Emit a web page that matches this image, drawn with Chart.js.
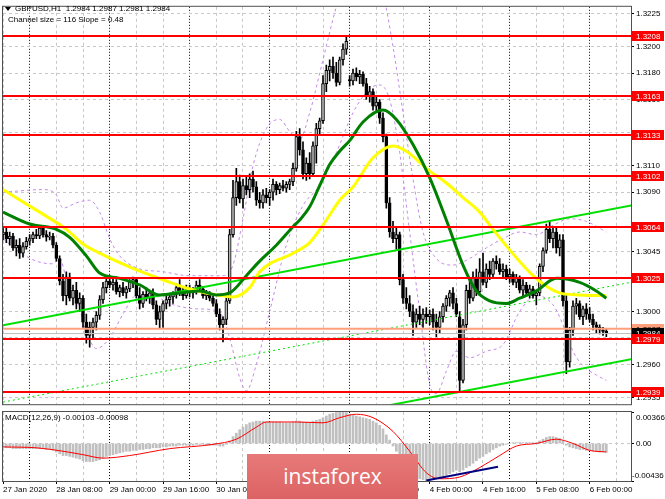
<!DOCTYPE html>
<html>
<head>
<meta charset="utf-8">
<script src="https://cdn.jsdelivr.net/npm/chart.js@4.4.0/dist/chart.umd.min.js"></script>
<style>
body { margin: 0; background: #fff; width: 665px; height: 499px; overflow: hidden; position: relative; }
#priceChart { position: absolute; left: 0; top: 0; }
#macdChart { position: absolute; left: 0; top: 411px; }
#logo { position: absolute; left: 247px; top: 454px; width: 171px; height: 45px;
  background: linear-gradient(#e87a7a, #dc6262); color: #fff; font: 21px 'Open Sans', sans-serif;
  text-align: center; line-height: 45px; }
</style>
</head>
<body>
<canvas id="priceChart" width="665" height="411"></canvas>
<canvas id="macdChart" width="665" height="88"></canvas>
<div id="logo">instaforex</div>
<script>
'use strict'
// ==> data ________________________________________________________________
// one H1 candle per slot, slot 0 = 27 Jan 16:00
let opens = [
  1.3058,1.3060,1.3055,1.3057,1.3048,1.3050,1.3044,1.3049,1.3053,1.3055,
  1.3058,1.3057,1.3063,1.3058,1.3056,1.3057,1.3050,1.3040,1.3023,1.3012,
  1.3026,1.3010,1.3016,1.3006,1.3010,1.2992,1.2982,1.2988,1.2992,1.2997,
  1.3009,1.3018,1.3023,1.3020,1.3022,1.3015,1.3018,1.3014,1.3017,1.3022,
  1.3024,1.3012,1.3006,1.3013,1.3010,1.3014,1.3005,1.2994,1.3000,1.3006,
  1.3009,1.3011,1.3013,1.3018,1.3015,1.3012,1.3017,1.3014,1.3016,1.3020,
  1.3017,1.3012,1.3013,1.3010,1.3006,1.2998,1.2990,1.2994,1.3008,1.3058,
  1.3086,1.3098,1.3085,1.3095,1.3092,1.3100,1.3094,1.3084,1.3082,1.3088,
  1.3086,1.3090,1.3096,1.3092,1.3095,1.3093,1.3096,1.3098,1.3108,1.3132,
  1.3122,1.3104,1.3112,1.3104,1.3125,1.3138,1.3144,1.3172,1.3182,1.3185,
  1.3180,1.3173,1.3190,1.3198,1.3175,1.3174,1.3180,1.3177,1.3179,1.3172,
  1.3163,1.3166,1.3155,1.3158,1.3146,1.3132,1.3082,1.3060,1.3055,1.3058,
  1.3024,1.3010,1.3006,1.3000,1.2992,1.2998,1.2994,1.2998,1.2996,1.2998,
  1.2992,1.2988,1.2996,1.3004,1.3010,1.3014,1.3006,1.2996,1.2948,1.2990,
  1.3016,1.3010,1.3026,1.3015,1.3030,1.3022,1.3032,1.3028,1.3038,1.3036,
  1.3030,1.3032,1.3026,1.3028,1.3022,1.3025,1.3016,1.3020,1.3014,1.3017,
  1.3012,1.3014,1.3034,1.3046,1.3062,1.3055,1.3060,1.3048,1.3054,1.3008,
  1.2962,1.2986,1.3004,1.3006,1.2996,1.3002,1.2998,1.2994,1.2990,1.2988,
  1.2986,1.2985];
let highs = [
  1.3064,1.3063,1.3060,1.3059,1.3054,1.3055,1.3052,1.3056,1.3058,1.3060,
  1.3062,1.3065,1.3064,1.3061,1.3060,1.3059,1.3052,1.3042,1.3028,1.3030,
  1.3029,1.3020,1.3022,1.3014,1.3012,1.2998,1.2992,1.2995,1.3000,1.3012,
  1.3022,1.3026,1.3027,1.3025,1.3024,1.3020,1.3022,1.3019,1.3024,1.3026,
  1.3025,1.3018,1.3015,1.3018,1.3016,1.3017,1.3008,1.3004,1.3008,1.3012,
  1.3013,1.3015,1.3021,1.3024,1.3019,1.3020,1.3020,1.3018,1.3023,1.3024,
  1.3019,1.3016,1.3015,1.3013,1.3009,1.3002,1.2996,1.3010,1.3062,1.3099,
  1.3108,1.3103,1.3100,1.3102,1.3104,1.3106,1.3098,1.3090,1.3092,1.3093,
  1.3092,1.3100,1.3098,1.3097,1.3099,1.3098,1.3100,1.3112,1.3136,1.3138,
  1.3128,1.3116,1.3120,1.3128,1.3142,1.3146,1.3178,1.3186,1.3190,1.3192,
  1.3188,1.3192,1.3202,1.3208,1.3178,1.3183,1.3184,1.3182,1.3181,1.3176,
  1.3170,1.3168,1.3162,1.3160,1.3150,1.3134,1.3086,1.3068,1.3063,1.3060,
  1.3028,1.3018,1.3012,1.3005,1.3002,1.3004,1.3002,1.3003,1.3001,1.3002,
  1.2998,1.3000,1.3006,1.3012,1.3016,1.3018,1.3010,1.3000,1.2994,1.3020,
  1.3024,1.3030,1.3032,1.3040,1.3044,1.3036,1.3038,1.3040,1.3042,1.3040,
  1.3036,1.3035,1.3032,1.3030,1.3028,1.3027,1.3024,1.3022,1.3020,1.3019,
  1.3016,1.3036,1.3048,1.3066,1.3068,1.3064,1.3063,1.3058,1.3058,1.3012,
  1.2988,1.3008,1.3010,1.3008,1.3004,1.3006,1.3003,1.2998,1.2992,1.2990,
  1.2988,1.2987];
let lows = [
  1.3054,1.3052,1.3050,1.3046,1.3042,1.3040,1.3041,1.3047,1.3050,1.3052,
  1.3055,1.3055,1.3056,1.3053,1.3054,1.3048,1.3038,1.3020,1.3008,1.3005,
  1.3008,1.3005,1.3002,1.3000,1.2988,1.2976,1.2973,1.2980,1.2986,1.2994,
  1.3006,1.3014,1.3018,1.3016,1.3013,1.3011,1.3012,1.3010,1.3015,1.3018,
  1.3010,1.3002,1.3003,1.3008,1.3006,1.3002,1.2990,1.2987,1.2988,1.3002,
  1.3004,1.3006,1.3010,1.3012,1.3009,1.3010,1.3011,1.3010,1.3013,1.3015,
  1.3010,1.3009,1.3008,1.3004,1.2996,1.2986,1.2977,1.2990,1.3006,1.3056,
  1.3080,1.3082,1.3078,1.3088,1.3086,1.3090,1.3080,1.3078,1.3078,1.3082,
  1.3080,1.3084,1.3088,1.3089,1.3091,1.3090,1.3092,1.3095,1.3106,1.3118,
  1.3100,1.3099,1.3100,1.3102,1.3112,1.3133,1.3142,1.3166,1.3174,1.3176,
  1.3170,1.3171,1.3186,1.3194,1.3170,1.3171,1.3174,1.3172,1.3170,1.3160,
  1.3158,1.3152,1.3150,1.3142,1.3128,1.3078,1.3056,1.3052,1.3047,1.3020,
  1.3006,1.3002,1.2996,1.2982,1.2988,1.2990,1.2988,1.2991,1.2990,1.2986,
  1.2981,1.2984,1.2992,1.3000,1.3004,1.3002,1.2996,1.2940,1.2946,1.2986,
  1.3006,1.3008,1.3012,1.3012,1.3020,1.3018,1.3024,1.3026,1.3032,1.3028,
  1.3025,1.3024,1.3022,1.3020,1.3018,1.3014,1.3012,1.3012,1.3010,1.3010,
  1.3005,1.3012,1.3030,1.3044,1.3052,1.3048,1.3044,1.3042,1.3004,1.2953,
  1.2958,1.2982,1.2998,1.2994,1.2990,1.2994,1.2992,1.2986,1.2984,1.2983,
  1.2982,1.2981];
let closes = [
  1.3060,1.3055,1.3057,1.3048,1.3050,1.3044,1.3049,1.3053,1.3055,1.3058,
  1.3057,1.3063,1.3058,1.3056,1.3057,1.3050,1.3040,1.3023,1.3012,1.3026,
  1.3010,1.3016,1.3006,1.3010,1.2992,1.2982,1.2988,1.2992,1.2997,1.3009,
  1.3018,1.3023,1.3020,1.3022,1.3015,1.3018,1.3014,1.3017,1.3022,1.3024,
  1.3012,1.3006,1.3013,1.3010,1.3014,1.3005,1.2994,1.3000,1.3006,1.3009,
  1.3011,1.3013,1.3018,1.3015,1.3012,1.3017,1.3014,1.3016,1.3020,1.3017,
  1.3012,1.3013,1.3010,1.3006,1.2998,1.2990,1.2994,1.3008,1.3058,1.3086,
  1.3098,1.3085,1.3095,1.3092,1.3100,1.3094,1.3084,1.3082,1.3088,1.3086,
  1.3090,1.3096,1.3092,1.3095,1.3093,1.3096,1.3098,1.3108,1.3132,1.3122,
  1.3104,1.3112,1.3104,1.3125,1.3138,1.3144,1.3172,1.3182,1.3185,1.3180,
  1.3173,1.3190,1.3198,1.3204,1.3174,1.3180,1.3177,1.3179,1.3172,1.3163,
  1.3166,1.3155,1.3158,1.3146,1.3132,1.3082,1.3060,1.3055,1.3058,1.3024,
  1.3010,1.3006,1.3000,1.2992,1.2998,1.2994,1.2998,1.2996,1.2998,1.2992,
  1.2988,1.2996,1.3004,1.3010,1.3014,1.3006,1.2998,1.2948,1.2990,1.3016,
  1.3010,1.3026,1.3015,1.3030,1.3022,1.3032,1.3028,1.3038,1.3036,1.3030,
  1.3032,1.3026,1.3028,1.3022,1.3025,1.3016,1.3020,1.3014,1.3017,1.3012,
  1.3014,1.3034,1.3046,1.3062,1.3055,1.3060,1.3048,1.3054,1.3008,1.2962,
  1.2986,1.3004,1.3006,1.2996,1.3002,1.2998,1.2994,1.2990,1.2988,1.2986,
  1.2985,1.2984];

// moving averages at knot bars
let greenMaBars = [0,8,16,20,25,29,35,41,47,53,59,64,68,73,77,82,87,89,92,95,98,101,104,108,114,118,123,128,133,138,142,146,151,155,160,166,173,178,181];
let greenMaValues = [1.3075,1.3066,1.3062,1.3056,1.3042,1.3029,1.3025,1.3020,1.30125,1.3014,1.30155,1.30125,1.3014,1.3027,1.3038,1.3050,1.3064,1.3069,1.3079,1.3095,
  1.3111,1.3121,1.3129,1.3143,1.3152,1.3145,1.3126,1.3101,1.3069,1.3035,1.30155,1.3008,1.3006,1.3010,1.30155,1.3025,1.3022,1.30155,1.3010];
let yellowMaBars = [0,9,19,24,29,39,49,55,61,69,74,77,87,92,97,101,105,111,117,121,128,133,138,143,147,151,155,159,163,167,173,181];
let yellowMaValues = [1.3092,1.3078,1.3062,1.3051,1.3044,1.30325,1.3023,1.30177,1.3014,1.3011,1.3018,1.3030,1.3044,1.3052,1.3069,1.3084,1.3094,1.3116,1.3125,1.3121,
  1.3106,1.3097,1.3086,1.3075,1.3062,1.30495,1.30377,1.3027,1.3019,1.3014,1.30125,1.3012];
// envelope bands (dashed violet)
let upperBandBars = [0,12,16,18,22,26,29,32,35,40,48,56,66,69,72,75,79,83,86,89,92,96,100,104,110,114,117,120,123,126,130,135,140,145,150,155,160,165,170,175,181];
let upperBandValues = [1.3090,1.3092,1.3088,1.3078,1.3082,1.3084,1.3075,1.3055,1.3042,1.3033,1.3030,1.3027,1.3027,1.3035,1.3070,1.3110,1.3138,1.3145,1.3136,1.3130,
  1.3150,1.3190,1.3230,1.3260,1.3265,1.3240,1.3200,1.3150,1.3100,1.3060,1.3040,1.3035,1.3040,1.3048,1.3055,1.3060,1.3058,1.3065,1.3070,1.3068,1.3060];
let lowerBandBars = [0,5,10,15,17,19,22,25,28,32,36,40,45,50,58,65,68,71,73,76,80,85,90,95,100,105,110,113,116,119,122,125,128,130,133,136,140,145,150,155,160,165,168,171,174,178,181];
let lowerBandValues = [1.3055,1.3045,1.3038,1.3036,1.3040,1.3025,1.3010,1.2985,1.2972,1.2980,1.2998,1.3012,1.3012,1.3006,1.3002,1.3000,1.2980,1.2950,1.2940,1.2960,
  1.3000,1.3050,1.3080,1.3095,1.3120,1.3150,1.3168,1.3171,1.3160,1.3120,1.3060,1.3000,1.2945,1.2938,1.2955,1.2970,1.2965,1.2970,1.2975,1.3000,
  1.3012,1.3005,1.2990,1.2970,1.2959,1.2952,1.2948];
// regression channel: size 116, slope 0.48
let channelBars = [0, 189];
let channelUpper = [1.29896, 1.30803];
let channelMiddle = [1.29316, 1.30223];
let channelLower = [1.28736, 1.29643];

let levels = [1.3208, 1.3163, 1.3133, 1.3102, 1.3064, 1.3025, 1.2979, 1.2939];
let askPrice = 1.2987;
let bidPrice = 1.2984;
let priceTicks = [1.3225, 1.3200, 1.3180, 1.3160, 1.3135, 1.3110, 1.3090, 1.3045, 1.3025, 1.3000, 1.2980, 1.2960, 1.2935];

let gridBars = [0,8,16,24,32,40,48,56,64,72,80,88,96,104,112,120,128,136,144,152,160,168,176,184];
let timeTickBars = [0,16,32,48,64,80,96,112,128,144,160,176];
let timeTickLabels = ['27 Jan 2020','28 Jan 08:00','29 Jan 00:00','29 Jan 16:00','30 Jan 08:00','31 Jan 00:00','31 Jan 16:00','3 Feb 08:00','4 Feb 00:00','4 Feb 16:00','5 Feb 08:00','6 Feb 00:00'];

// MACD(12,26,9) histogram, one value per candle
let macdValues = [
  -0.0004,-0.0005,-0.0005,-0.0006,-0.0006,-0.0006,-0.0006,-0.0006,
  -0.0006,-0.0006,-0.0006,-0.0006,-0.0006,-0.0007,-0.0007,-0.0008,
  -0.0010,-0.0012,-0.0014,-0.0014,-0.0015,
  -0.0016,-0.0017,-0.0018,-0.0020,-0.0021,-0.0021,-0.0021,-0.0020,
  -0.0019,-0.0017,-0.0015,-0.0014,-0.0013,
  -0.0012,-0.0011,-0.0010,-0.0009,-0.0009,-0.0008,-0.0008,-0.0007,-0.0007,-0.0006,-0.0006,-0.0005,
  -0.0005,-0.0005,-0.0004,-0.0004,-0.0003,-0.0003,-0.0003,-0.0002,-0.0002,-0.0002,
  -0.0002,-0.0002,-0.0001,-0.0001,-0.0001,-0.0002,-0.0002,-0.0002,-0.0002,-0.0003,-0.0003,
  -0.0001,0.0003,0.0008,0.0012,0.0016,0.0019,0.0022,0.0024,
  0.0025,0.0026,0.0026,0.0026,0.0025,0.0025,0.0025,0.0025,0.0025,0.0024,0.0024,0.0024,
  0.0025,0.0026,0.0026,0.0025,0.0025,0.0025,0.0026,
  0.0027,0.0028,0.0030,0.0032,
  0.0034,0.0035,0.0036,0.00366,0.00366,0.0036,0.0034,
  0.0033,0.0032,0.0031,0.0030,0.0029,0.0028,
  0.0026,0.0024,0.0021,0.0017,0.0010,0.0004,
  -0.0003,-0.0009,-0.0015,-0.0021,-0.0027,-0.0032,-0.0036,-0.0039,
  -0.0041,-0.0042,-0.00436,-0.0043,-0.0042,-0.0041,-0.0040,
  -0.0039,-0.0037,-0.0035,-0.0033,-0.0031,
  -0.0033,-0.0031,-0.0028,-0.0026,-0.0023,
  -0.0020,-0.0017,-0.0015,-0.0012,-0.0010,-0.0007,
  -0.0005,-0.0003,-0.0002,-0.0001,0.0000,
  0.0001,0.0001,0.0001,0.0001,0.0001,0.0001,0.0001,0.0001,
  0.0003,0.0005,0.0007,0.0008,0.0008,0.0007,
  0.0006,0.0003,-0.0002,-0.0004,
  -0.0005,-0.0006,-0.0007,-0.0007,-0.0008,-0.0008,-0.0009,-0.0009,-0.0010,-0.0010,-0.00103];
let signalBars = [0,10,18,24,30,38,50,63,70,76,79,88,96,101,106,111,117,122,127,131,137,143,149,154,160,166,171,176,181];
let signalValues = [-0.0004,-0.0005,-0.0009,-0.0013,-0.0017,-0.0014,-0.0006,-0.0001,0.0005,0.0019,0.0025,0.0025,0.0024,0.0030,0.0034,0.0030,0.0014,-0.0009,-0.0034,-0.0041,
  -0.0039,-0.0028,-0.0014,-0.0003,0.0000,0.0005,0.0000,-0.0008,-0.00098];
let divergenceBars = [127, 148.5];
let divergenceValues = [-0.0043, -0.0027];
let macdTicks = [0.00366, 0, -0.00436];
let macdTickLabels = ['0.00366', '0.00', '-0.00436'];
//__________________________________________________________________________==<

let xMin = 0;
let xMax = 188.4;
let labelFont = "8px 'Liberation Sans', Arial, sans-serif";

function pairs(xs, ys) {
    return xs.map((x, k) => ({ x: x, y: ys[k] }));
}

function isDayLine(v) {
    return v % 24 === 8;
}

let candleWicks = [];
let candleBodies = [];
let bodyColors = [];
for (let i = 0; i < closes.length; i++) {
    candleWicks.push({ x: i, y: [lows[i], highs[i]] });
    candleBodies.push({ x: i, y: [opens[i], closes[i]] });
    bodyColors.push(closes[i] >= opens[i] ? '#b4b4b4' : '#000000');
}

let xGrid = {
    display: true,
    drawTicks: false,
    offset: false,
    color: ctx => (ctx.tick && isDayLine(ctx.tick.value)) ? '#000000' : '#c8c8c8'
};
let xBorder = {
    display: false,
    dash: ctx => (ctx.tick && isDayLine(ctx.tick.value)) ? [1, 2] : [3, 3]
};

// red levels, price lines and their boxes on the right axis
let levelsPlugin = {
    id: 'levels',
    afterDatasetsDraw(chart) {
        let c = chart.ctx;
        let area = chart.chartArea;
        let y = chart.scales.y;
        c.save();
        c.beginPath();
        c.rect(area.left, area.top, area.right - area.left, area.bottom - area.top);
        c.clip();
        c.strokeStyle = '#ffa07a';
        c.lineWidth = 2;
        c.beginPath();
        c.moveTo(area.left, y.getPixelForValue(askPrice));
        c.lineTo(area.right, y.getPixelForValue(askPrice));
        c.stroke();
        c.strokeStyle = '#c0c0c0';
        c.lineWidth = 1;
        c.beginPath();
        c.moveTo(area.left, Math.round(y.getPixelForValue(bidPrice)) + 0.5);
        c.lineTo(area.right, Math.round(y.getPixelForValue(bidPrice)) + 0.5);
        c.stroke();
        c.strokeStyle = '#ff0000';
        c.lineWidth = 2;
        for (let v of levels) {
            let py = Math.round(y.getPixelForValue(v));
            c.beginPath();
            c.moveTo(area.left, py);
            c.lineTo(area.right, py);
            c.stroke();
        }
        c.restore();
    },
    afterDraw(chart) {
        let c = chart.ctx;
        let area = chart.chartArea;
        let y = chart.scales.y;
        c.save();
        // frame
        c.strokeStyle = '#505050';
        c.lineWidth = 1;
        c.strokeRect(area.left - 0.5, area.top - 0.5, area.right - area.left + 1, area.bottom - area.top + 1);
        c.font = labelFont;
        c.textBaseline = 'middle';
        c.textAlign = 'left';
        let box = (v, bg, fg) => {
            let py = Math.round(y.getPixelForValue(v));
            c.fillStyle = bg;
            c.fillRect(area.right + 1, py - 5, 32, 10);
            c.fillStyle = fg;
            c.fillText(v.toFixed(4), area.right + 5, py + 0.5);
        };
        box(askPrice, '#ffa07a', '#000000');
        box(bidPrice, '#000000', '#ffffff');
        for (let v of levels) box(v, '#ff0000', '#ffffff');
        // header
        c.fillStyle = '#000000';
        c.beginPath();
        c.moveTo(5, 7); c.lineTo(11, 7); c.lineTo(8, 11); c.closePath();
        c.fill();
        c.fillText('GBPUSD,H1  1.2984 1.2987 1.2981 1.2984', 15, 9);
        c.fillText('Channel size = 116 Slope = 0.48', 8, 20);
        c.restore();
    }
};

let priceCtx = document.getElementById('priceChart').getContext('2d');
let priceChart = new Chart(priceCtx, {
    type: 'bar',
    data: {
        datasets: [
            { type: 'line', data: pairs(greenMaBars, greenMaValues), borderColor: '#008000', borderWidth: 3, pointRadius: 0, cubicInterpolationMode: 'monotone', order: 1 },
            { type: 'line', data: pairs(yellowMaBars, yellowMaValues), borderColor: '#ffff00', borderWidth: 3, pointRadius: 0, cubicInterpolationMode: 'monotone', order: 2 },
            { type: 'line', data: pairs(channelBars, channelUpper), borderColor: '#00e000', borderWidth: 2, pointRadius: 0, order: 3 },
            { type: 'line', data: pairs(channelBars, channelLower), borderColor: '#00e000', borderWidth: 2, pointRadius: 0, order: 3 },
            { type: 'line', data: pairs(channelBars, channelMiddle), borderColor: '#00e000', borderWidth: 1, borderDash: [2, 3], pointRadius: 0, order: 3 },
            { data: candleBodies, backgroundColor: bodyColors, borderColor: '#000000', borderWidth: 1, borderSkipped: false, barThickness: 3, grouped: false, order: 4 },
            { data: candleWicks, backgroundColor: '#000000', barThickness: 1, grouped: false, order: 5 },
            { type: 'line', data: pairs(upperBandBars, upperBandValues), borderColor: '#c58ae8', borderWidth: 1, borderDash: [3, 3], pointRadius: 0, cubicInterpolationMode: 'monotone', order: 6 },
            { type: 'line', data: pairs(lowerBandBars, lowerBandValues), borderColor: '#c58ae8', borderWidth: 1, borderDash: [3, 3], pointRadius: 0, cubicInterpolationMode: 'monotone', order: 6 }
        ]
    },
    options: {
        responsive: false,
        animation: false,
        devicePixelRatio: 1,
        layout: { padding: { left: 3, top: 3, bottom: 2, right: 0 } },
        plugins: { legend: { display: false }, tooltip: { enabled: false } },
        scales: {
            x: {
                type: 'linear', min: xMin, max: xMax, offset: false,
                afterBuildTicks: s => { s.ticks = gridBars.map(v => ({ value: v })); },
                afterFit: s => { s.height = 0; },
                ticks: { display: false },
                grid: xGrid,
                border: xBorder
            },
            y: {
                position: 'right', min: 1.2930, max: 1.3230,
                afterBuildTicks: s => { s.ticks = priceTicks.map(v => ({ value: v })); },
                afterFit: s => { s.width = 34; },
                ticks: { font: { family: "'Liberation Sans', Arial, sans-serif", size: 8 }, color: '#000000', padding: 2, callback: v => v.toFixed(4) },
                grid: { color: '#c8c8c8', tickColor: '#000000', tickLength: 3, drawTicks: true },
                border: { display: false, dash: [3, 3] }
            }
        }
    },
    plugins: [levelsPlugin]
});

let macdPlugin = {
    id: 'macdText',
    afterDraw(chart) {
        let c = chart.ctx;
        let area = chart.chartArea;
        let y = chart.scales.y;
        c.save();
        c.strokeStyle = '#505050';
        c.lineWidth = 1;
        c.strokeRect(area.left - 0.5, area.top - 0.5, area.right - area.left + 1, area.bottom - area.top + 1);
        c.font = labelFont;
        c.fillStyle = '#000000';
        c.textBaseline = 'middle';
        c.fillText('MACD(12,26,9) -0.00103 -0.00098', 5, 7);
        let shift = [6, 0, -5];
        let left = [5, 5, 1];
        macdTicks.forEach((v, k) => {
            c.fillText(macdTickLabels[k], area.right + left[k], y.getPixelForValue(v) + shift[k]);
        });
        c.restore();
    }
};

let macdCtx = document.getElementById('macdChart').getContext('2d');
let macdChart = new Chart(macdCtx, {
    type: 'bar',
    data: {
        datasets: [
            { type: 'line', data: pairs(divergenceBars, divergenceValues), borderColor: '#000080', borderWidth: 2, pointRadius: 0, order: 1 },
            { type: 'line', data: pairs(signalBars, signalValues), borderColor: '#ff0000', borderWidth: 1, pointRadius: 0, cubicInterpolationMode: 'monotone', order: 2 },
            { data: macdValues.map((v, i) => ({ x: i, y: v })), backgroundColor: '#c0c0c0', barThickness: 2, order: 3 }
        ]
    },
    options: {
        responsive: false,
        animation: false,
        devicePixelRatio: 1,
        layout: { padding: { left: 3, top: 1, bottom: 0, right: 0 } },
        plugins: { legend: { display: false }, tooltip: { enabled: false } },
        scales: {
            x: {
                type: 'linear', min: xMin, max: xMax, offset: false,
                afterBuildTicks: s => { s.ticks = gridBars.map(v => ({ value: v })); },
                afterFit: s => { s.height = 18; },
                ticks: {
                    autoSkip: false, maxRotation: 0, align: 'start', padding: 1, color: '#000000',
                    font: { family: "'Liberation Sans', Arial, sans-serif", size: 8 },
                    callback: v => { let k = timeTickBars.indexOf(v); return k >= 0 ? timeTickLabels[k] : ''; }
                },
                grid: {
                    display: true, drawTicks: true, tickLength: 3, offset: false,
                    color: ctx => (ctx.tick && isDayLine(ctx.tick.value)) ? '#000000' : '#c8c8c8',
                    tickColor: ctx => (ctx.tick && timeTickBars.includes(ctx.tick.value)) ? '#000000' : 'rgba(0,0,0,0)'
                },
                border: xBorder
            },
            y: {
                position: 'right', min: -0.00436, max: 0.00366,
                afterBuildTicks: s => { s.ticks = macdTicks.map(v => ({ value: v })); },
                afterFit: s => { s.width = 34; },
                ticks: { display: false },
                grid: { color: ctx => (ctx.tick && ctx.tick.value === 0) ? '#c8c8c8' : 'rgba(0,0,0,0)', tickColor: '#000000', tickLength: 3 },
                border: { display: false, dash: [3, 3] }
            }
        }
    },
    plugins: [macdPlugin]
});
</script>
</body>
</html>
